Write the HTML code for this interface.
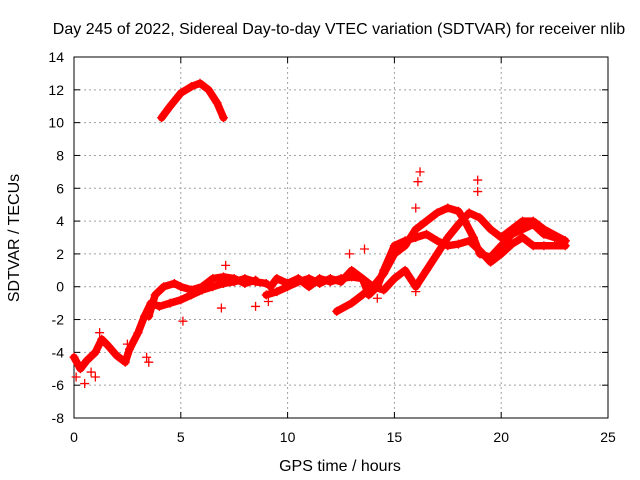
<!DOCTYPE html>
<html><head><meta charset="utf-8"><style>
body{margin:0;background:#fff;}
svg{display:block;font-family:"Liberation Sans",sans-serif;}
</style></head><body>
<svg id="chart" width="640" height="480" viewBox="0 0 640 480">
<rect x="0" y="0" width="640" height="480" fill="#fff"/>
<text x="339" y="34" font-size="16" text-anchor="middle">Day 245 of 2022, Sidereal Day-to-day VTEC variation (SDTVAR) for receiver nlib</text>
<g id="grid"></g>
<g id="axes"></g>
<g id="series"></g>
<text x="340" y="471" font-size="16" text-anchor="middle">GPS time / hours</text>
<text transform="translate(19,238) rotate(-90)" font-size="16" text-anchor="middle">SDTVAR / TECUs</text>
</svg>
<script>
const xTicks=[0,5,10,15,20,25];
const yTicks=[-8,-6,-4,-2,0,2,4,6,8,10,12,14];
const trackArc=[[4.1,10.3],[4.5,11],[5,11.8],[5.5,12.2],[5.9,12.4],[6.3,12],[6.7,11.2],[7,10.3]];
const trackB1=[[0,-4.3],[0.3,-5],[0.6,-4.5],[1,-4],[1.3,-3.2],[1.6,-3.6],[2,-4.2],[2.4,-4.6],[2.6,-3.8],[3,-2.8],[3.3,-1.8],[3.6,-1.0],[4,-1.2],[4.5,-1.0],[5,-0.8],[5.5,-0.5],[6,-0.2],[6.5,0],[7,0.2],[7.5,0.3],[8,0.5],[8.5,0.3],[9,0.2]];
const trackB2=[[3.5,-1.8],[3.8,-0.5],[4.2,0],[4.7,0.2],[5,0],[5.5,-0.2],[6,0],[6.5,0.5],[7,0.6],[7.5,0.5],[8,0.2],[8.5,0.4]];
const trackB3=[[9.2,0],[9.5,0.5],[10,0.2],[10.5,0.5],[11,0],[11.5,0.5],[12,0.3],[12.5,0.5],[13,0.6],[13.5,0.5],[14,0],[14.5,0.8],[15,2.0],[15.5,2.5],[16,3.5],[16.5,4],[17,4.5],[17.5,4.8],[18,4.6],[18.3,4.0],[18.7,3],[19,2],[19.5,1.8],[20,2.5],[20.5,3.2],[21,3.5],[21.5,3.8],[22,3.2],[22.5,3.0],[23,2.8]];
const trackB4=[[9,-0.5],[9.5,-0.3],[10,0],[10.5,0.3],[11,0.5],[11.5,0.2],[12,0.5],[12.5,0.3],[13,1],[13.5,0.5],[13.8,-0.5],[14.2,0],[14.5,1],[15,2.5],[15.5,2.8],[16,3.0],[16.5,3.2],[17,2.8],[17.5,2.5],[18,2.6],[18.5,2.8],[19,2.2],[19.5,1.5],[20,2.0],[20.5,2.6],[21,3],[21.5,2.5],[22,2.5],[23,2.5]];
const trackB5=[[12.3,-1.5],[13,-1],[13.5,-0.5],[14,0],[14.5,-0.2],[15,0.5],[15.5,1],[16,0],[16.5,1],[17,2],[17.5,3],[18,3.8],[18.5,4.5],[19,4.2],[19.5,3.5],[20,3],[20.5,3.5],[21,4],[21.5,4],[22,3.5],[23,2.8]];
const spikes=[[16.2,7],[16.1,6.4],[18.9,6.5],[18.9,5.8],[16,4.8],[0.5,-5.9],[1.0,-5.5],[1.2,-2.8],[3.4,-4.3],[3.5,-4.6],[6.9,-1.3],[7.1,1.3],[8.5,-1.2],[5.1,-2.1],[9.1,-0.9],[13.6,2.3],[12.9,2.0],[14.2,-0.7],[16,-0.3],[2.5,-3.5],[0.1,-5.5],[0.8,-5.2]];
const tracks=[trackArc,trackB1,trackB2,trackB3,trackB4,trackB5];
const X0=74,X1=608,Y0=418,Y1=57;
const xs=v=>X0+(v-0)/(25-0)*(X1-X0);
const ys=v=>Y0-(v+8)/(22)*(Y0-Y1);
const NS='http://www.w3.org/2000/svg';
function mk(tag,attrs,parent){const e=document.createElementNS(NS,tag);for(const k in attrs)e.setAttribute(k,attrs[k]);parent.appendChild(e);return e;}
const grid=document.getElementById('grid'),axes=document.getElementById('axes'),ser=document.getElementById('series');
xTicks.forEach(t=>{const x=xs(t);
 if(t>0&&t<25){const l=mk('line',{x1:x,x2:x,y1:Y1,y2:Y0,stroke:'#a0a0a0','stroke-dasharray':'2,3','stroke-width':1},grid);}
 mk('line',{x1:x,x2:x,y1:Y0,y2:Y0-6,stroke:'#000'},axes);mk('line',{x1:x,x2:x,y1:Y1,y2:Y1+6,stroke:'#000'},axes);
 const tx=mk('text',{x:x,y:Y0+24,'font-size':14,'text-anchor':'middle'},axes);tx.textContent=t;
 });
yTicks.forEach(t=>{const y=ys(t);
 if(t>-8&&t<14){const l=mk('line',{x1:X0,x2:X1,y1:y,y2:y,stroke:'#a0a0a0','stroke-dasharray':'2,3','stroke-width':1},grid);}
 mk('line',{x1:X0,x2:X0+6,y1:y,y2:y,stroke:'#000'},axes);mk('line',{x1:X1,x2:X1-6,y1:y,y2:y,stroke:'#000'},axes);
 const tx=mk('text',{x:X0-10,y:y+5,'font-size':14,'text-anchor':'end'},axes);tx.textContent=t;
 });
const fr=mk('rect',{x:X0,y:Y1,width:X1-X0,height:Y0-Y1,fill:'none',stroke:'#000'},axes);

function plus(p){const x=xs(p[0]),y=ys(p[1]);const g=mk('path',{d:`M${x-4.5},${y}H${x+4.5}M${x},${y-4.5}V${y+4.5}`,stroke:'#f00','stroke-width':1.3,fill:'none'},ser);
 }
tracks.forEach(tr=>{
 const pl=mk('polyline',{points:tr.map(p=>xs(p[0])+','+ys(p[1])).join(' '),fill:'none',stroke:'#f00','stroke-width':7.5,'stroke-linejoin':'round','stroke-linecap':'round'},ser);
 
 tr.forEach(plus);});
spikes.forEach(plus);
</script>
</body></html>
